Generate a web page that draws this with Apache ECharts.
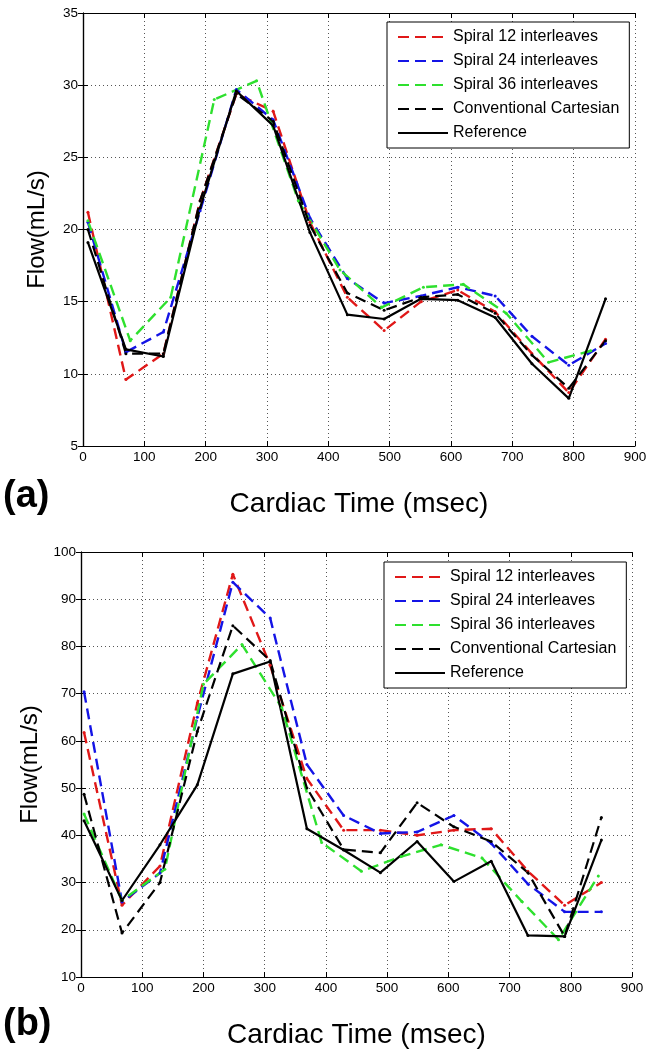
<!DOCTYPE html>
<html><head><meta charset="utf-8">
<script src="https://cdn.jsdelivr.net/npm/echarts@6/dist/echarts.min.js"></script>
<style>html,body{margin:0;padding:0;background:#fff}#c{width:655px;height:1050px}</style>
</head><body><div id="c"></div><script>
// ---------- data ----------
const seriesNames = ['Spiral 12 interleaves','Spiral 24 interleaves','Spiral 36 interleaves','Conventional Cartesian','Reference'];
const xTicks = [0,100,200,300,400,500,600,700,800,900];

// Panel (a)
const timesA = [8, 70, 131, 191, 250, 310, 370, 431, 491, 551, 611, 672, 732, 792, 852];
const spiral12A = [21.2, 9.6, 11.4, 22.0, 29.4, 28.2, 20.5, 15.3, 13.0, 15.0, 15.8, 14.3, 11.4, 8.7, 12.4];
const spiral24A = [20.5, 11.5, 12.9, 21.3, 29.7, 27.6, 20.8, 16.6, 14.9, 15.4, 16.0, 15.4, 12.6, 10.6, 12.1];
const cartesianA = [20.0, 11.4, 11.4, 22.0, 29.4, 27.5, 20.3, 15.6, 14.4, 15.3, 15.5, 14.2, 11.3, 9.0, 12.3];
const referenceA = [19.1, 11.7, 11.2, 21.5, 29.6, 27.2, 19.8, 14.1, 13.8, 15.2, 15.1, 13.9, 10.7, 8.3, 15.2];
const times36A = [8, 77, 143, 214, 283, 351, 419, 487, 555, 620, 690, 759, 828];
const spiral36A = [20.6, 12.3, 15.3, 29.0, 30.3, 22.0, 17.2, 14.6, 16.0, 16.2, 14.2, 10.8, 11.6];

// Panel (b)
const timesB = [5, 67, 129, 190, 248, 309, 369, 429, 489, 549, 609, 670, 730, 790, 850];
const spiral12B = [61.8, 25.2, 33.5, 68.0, 95.3, 76.0, 52.0, 41.1, 41.1, 40.0, 41.1, 41.4, 32.4, 25.2, 30.0];
const spiral24B = [70.4, 25.9, 32.0, 65.0, 93.6, 86.0, 55.0, 44.2, 40.4, 40.7, 44.2, 38.3, 29.7, 23.8, 23.8];
const cartesianB = [48.7, 19.3, 30.0, 62.0, 84.4, 77.0, 50.0, 37.0, 36.3, 46.9, 41.8, 38.7, 32.1, 18.6, 43.8];
const referenceB = [43.1, 26.2, 38.0, 50.7, 74.2, 76.8, 41.4, 36.9, 32.1, 38.7, 30.2, 34.5, 18.8, 18.6, 39.0];
const times36B = [5, 67, 137, 200, 263, 328, 393, 458, 523, 588, 655, 720, 780, 845];
const spiral36B = [44.5, 26.2, 32.8, 72.0, 80.4, 67.0, 38.5, 32.4, 35.5, 38.0, 35.2, 26.0, 17.9, 31.4];

// ---------- styling ----------
const FONT = 'Liberation Sans, Arial, sans-serif';
const lineStyles = {
  'Spiral 12 interleaves': {color:'#e01818', type:[11,6], width:2.4},
  'Spiral 24 interleaves': {color:'#1414e6', type:[11,6], width:2.4},
  'Spiral 36 interleaves': {color:'#2ee02e', type:[11,6], width:2.4},
  'Conventional Cartesian': {color:'#000000', type:[11,6], width:2.2},
  'Reference': {color:'#000000', type:'solid', width:2.2}
};
function pairs(ts, vs){ return ts.map((t,i)=>[t, vs[i]]); }
function mkSeries(name, ts, vs, gi){
  const ls = lineStyles[name];
  return {
    type:'line', name, xAxisIndex: gi*2, yAxisIndex: gi*2,
    data: pairs(ts, vs), symbol:'circle', symbolSize:3, showSymbol:true,
    itemStyle:{color: ls.color}, lineStyle:{color: ls.color, type: ls.type, width: ls.width},
    animation:false, silent:true
  };
}
const panelData = [
  [[spiral12A,timesA],[spiral24A,timesA],[spiral36A,times36A],[cartesianA,timesA],[referenceA,timesA]],
  [[spiral12B,timesB],[spiral24B,timesB],[spiral36B,times36B],[cartesianB,timesB],[referenceB,timesB]]
];
const series = [];
panelData.forEach((pd, gi)=>{
  pd.forEach((d, k)=>series.push(mkSeries(seriesNames[k], d[1], d[0], gi)));
});

const grids = [
  {left:83, top:13, width:552, height:433},
  {left:81, top:552, width:551, height:435}
];
const yRanges = [{min:5,max:35,interval:5},{min:10,max:100,interval:10}];

const xAxes = [], yAxes = [];
grids.forEach((g, gi)=>{
  xAxes.push({
    type:'value', gridIndex:gi, min:xTicks[0], max:xTicks[xTicks.length-1], interval:100, position:'bottom',
    name:'Cardiac Time (msec)', nameLocation:'middle', nameGap:44,
    nameTextStyle:{fontSize:28, color:'#000', fontFamily:FONT},
    axisLine:{lineStyle:{color:'#000', width:1.2}},
    axisTick:{inside:true, length:5, lineStyle:{color:'#000'}},
    axisLabel:{fontSize:13.5, color:'#000', fontFamily:FONT, margin:4},
    splitLine:{show:true, lineStyle:{color:'#555', type:[1,3], width:1}}
  });
  xAxes.push({
    type:'value', gridIndex:gi, min:0, max:900, interval:100, position:'top',
    axisLine:{lineStyle:{color:'#000', width:1.2}},
    axisTick:{inside:true, length:5, lineStyle:{color:'#000'}},
    axisLabel:{show:false}, splitLine:{show:false}
  });
  yAxes.push({
    type:'value', gridIndex:gi, min:yRanges[gi].min, max:yRanges[gi].max, interval:yRanges[gi].interval, position:'left',
    name:'Flow(mL/s)', nameLocation:'middle', nameGap:34,
    nameTextStyle:{fontSize:24, color:'#000', fontFamily:FONT},
    axisLine:{show:true, lineStyle:{color:'#000', width:1.2}},
    axisTick:{show:true, inside:true, length:5, lineStyle:{color:'#000'}},
    axisLabel:{fontSize:13.5, color:'#000', fontFamily:FONT, margin:5},
    splitLine:{show:true, lineStyle:{color:'#555', type:[1,3], width:1}}
  });
  yAxes.push({
    type:'value', gridIndex:gi, min:yRanges[gi].min, max:yRanges[gi].max, interval:yRanges[gi].interval, position:'right',
    axisLine:{show:true, lineStyle:{color:'#000', width:1.2}},
    axisTick:{show:true, inside:true, length:5, lineStyle:{color:'#000'}},
    axisLabel:{show:false}, splitLine:{show:false}
  });
});

function mkLegend(left, top){
  return {
    orient:'vertical', left, top, data: seriesNames,
    itemWidth:50, itemHeight:14, itemGap:8,
    padding:[7,10,7,10], borderColor:'#000', borderWidth:1, backgroundColor:'#fff',
    textStyle:{fontSize:16, color:'#000', fontFamily:FONT},
    itemStyle:{opacity:0},
    selectedMode:false
  };
}

const chart = echarts.init(document.getElementById('c'), null, {renderer:'canvas'});
chart.setOption({
  backgroundColor:'#fff',
  animation:false,
  grid: grids,
  xAxis: xAxes,
  yAxis: yAxes,
  legend: [mkLegend(387, 22), mkLegend(384, 562)],
  series,
  graphic: [
    {type:'text', left:3, top:478, style:{text:'(a)', font:'bold 38px ' + FONT, fill:'#000'}},
    {type:'text', left:3, top:1006, style:{text:'(b)', font:'bold 38px ' + FONT, fill:'#000'}}
  ]
});
</script></body></html>
